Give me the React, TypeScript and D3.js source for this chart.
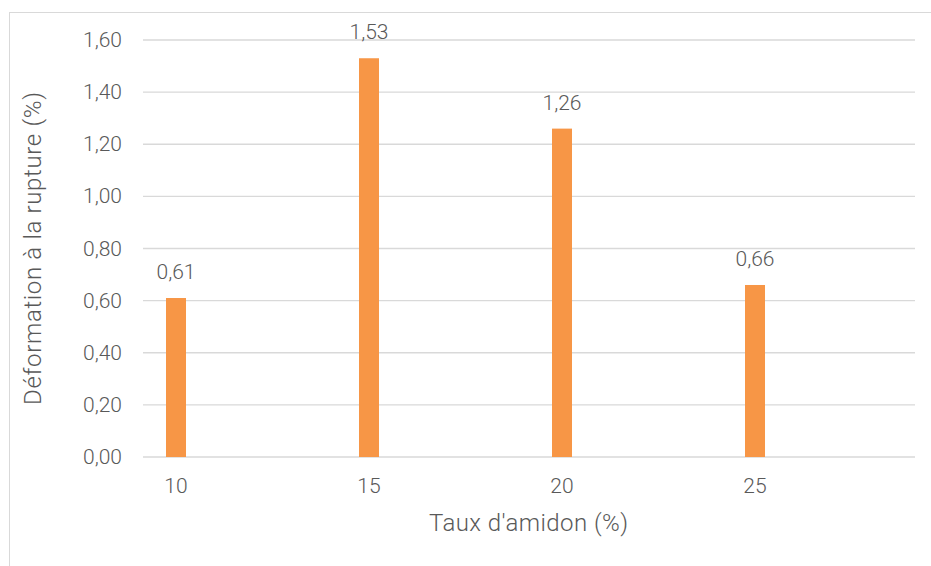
import React from "react";
import * as d3 from "d3";

const categories = ["10", "15", "20", "25"];
const values = [0.61, 1.53, 1.26, 0.66];
const valueLabels = ["0,61", "1,53", "1,26", "0,66"];
const yTicks = [0, 0.2, 0.4, 0.6, 0.8, 1.0, 1.2, 1.4, 1.6];
const yTitle = "Déformation à la rupture (%)";
const xTitle = "Taux d'amidon (%)";

const W = 931;
const H = 566;
const left = 143;
const right = 915;
const top = 40;
const bottom = 457;
const textColor = "#595959";
const font = "Roboto, 'Open Sans', sans-serif";

export default function App() {
  const x = d3.scaleBand<string>().domain(categories).range([left, right]).padding(0);
  const y = d3.scaleLinear().domain([0, 1.6]).range([bottom, top]);
  const bw = x.bandwidth();
  const barW = 20;
  const center = (c: string) => (x(c) as number) + bw * 0.171;
  const fmt = (v: number) => v.toFixed(2).replace(".", ",");

  return (
    <svg
      width={W}
      height={H}
      style={{ position: "absolute", left: 0, top: 0, background: "#fff" }}
      fontFamily={font}
      fontWeight={300}
    >
      <rect x={9.5} y={12.5} width={W} height={H} fill="#fff" stroke="#d9d9d9" strokeWidth={1} />
      {yTicks.map((t) => (
        <g key={t}>
          <line x1={left} x2={right} y1={y(t)} y2={y(t)} stroke="#d9d9d9" strokeWidth={1.3} />
          <text
            x={122}
            y={y(t)}
            textAnchor="end"
            dominantBaseline="central"
            fontSize={21}
            fill={textColor}
          >
            {fmt(t)}
          </text>
        </g>
      ))}
      {categories.map((c, i) => (
        <g key={c}>
          <rect
            x={center(c) - barW / 2}
            y={y(values[i])}
            width={barW}
            height={bottom - y(values[i])}
            fill="#F79646"
          />
          <text
            x={center(c)}
            y={y(values[i]) - 26}
            textAnchor="middle"
            dominantBaseline="central"
            fontSize={21}
            fill={textColor}
          >
            {valueLabels[i]}
          </text>
          <text
            x={center(c)}
            y={486}
            textAnchor="middle"
            dominantBaseline="central"
            fontSize={21}
            fill={textColor}
          >
            {c}
          </text>
        </g>
      ))}
      <text
        x={429}
        y={523}
        dominantBaseline="central"
        fontSize={24}
        fill={textColor}
        textLength={199}
        lengthAdjust="spacing"
      >
        {xTitle}
      </text>
      <text
        transform={`translate(33, 405) rotate(-90)`}
        dominantBaseline="central"
        fontSize={24}
        fill={textColor}
        textLength={313}
        lengthAdjust="spacing"
      >
        {yTitle}
      </text>
    </svg>
  );
}
